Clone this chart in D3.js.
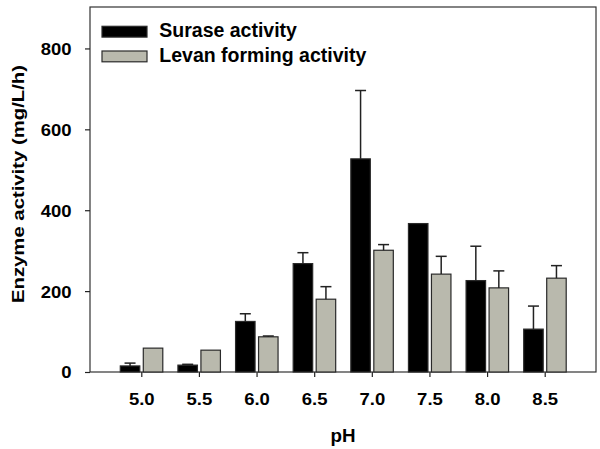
<!DOCTYPE html>
<html><head><meta charset="utf-8">
<script src="https://cdn.jsdelivr.net/npm/d3@7"></script>
<style>
html,body{margin:0;padding:0;background:#fff;}
text{font-family:"Liberation Sans",Arial,sans-serif;font-weight:bold;fill:#000;}
</style></head>
<body>
<svg id="chart" width="600" height="449"></svg>
<script>
const categories = ["5.0","5.5","6.0","6.5","7.0","7.5","8.0","8.5"];
const surase = [15, 17, 125, 268, 527, 367, 226, 106];
const suraseErr = [7, 2, 19, 27, 169, 0, 85, 57];
const levan = [59, 54, 87, 180, 301, 242, 208, 232];
const levanErr = [0, 0, 2, 31, 14, 44, 42, 31];
const yTicks = [0, 200, 400, 600, 800];
const seriesNames = ["Surase activity", "Levan forming activity"];
const colors = ["#000000", "#b9b9ad"];

const svg = d3.select("#chart");
const mLeft = 90, mRight = 596, mTop = 8, mBottom = 372;

const x = d3.scalePoint().domain(categories).range([mLeft, mRight]).padding(0.89);
const y = d3.scaleLinear().domain([0, 900]).range([mBottom, mTop]);

// frame
svg.append("rect").attr("x", mLeft).attr("y", mTop - 1).attr("width", mRight - mLeft).attr("height", mBottom - mTop + 1)
  .attr("fill", "none").attr("stroke", "#333").attr("stroke-width", 1.2);

const barW = 19.5;
const series = [
  {vals: surase, err: suraseErr, color: colors[0], dx: -21},
  {vals: levan, err: levanErr, color: colors[1], dx: 2}
];

series.forEach(s => {
  const g = svg.append("g");
  g.selectAll("rect").data(categories).join("rect")
    .attr("x", d => x(d) + s.dx)
    .attr("y", (d, i) => y(s.vals[i]))
    .attr("width", barW)
    .attr("height", (d, i) => y(0) - y(s.vals[i]))
    .attr("fill", s.color)
    .attr("stroke", "#2a2a2a").attr("stroke-width", 1.2);
  const eg = svg.append("g").attr("stroke", "#222").attr("stroke-width", 1.5);
  categories.forEach((c, i) => {
    if (s.err[i] <= 0) return;
    const cx = x(c) + s.dx + barW / 2;
    eg.append("line").attr("x1", cx).attr("x2", cx).attr("y1", y(s.vals[i])).attr("y2", y(s.vals[i] + s.err[i]));
    eg.append("line").attr("x1", cx - 5.5).attr("x2", cx + 5.5).attr("y1", y(s.vals[i] + s.err[i])).attr("y2", y(s.vals[i] + s.err[i]));
  });
});

// axes
const xAxis = svg.append("g").attr("transform", `translate(0,${mBottom})`)
  .call(d3.axisBottom(x).tickSize(5).tickPadding(0));
xAxis.select(".domain").remove();
xAxis.selectAll(".tick line").attr("stroke", "#222").attr("stroke-width", 1.2);
xAxis.selectAll(".tick text").attr("y", 33).attr("dy", 0).style("font-size", "16.5px");

const yAxis = svg.append("g").attr("transform", `translate(${mLeft},0)`)
  .call(d3.axisLeft(y).tickValues(yTicks).tickSize(5).tickFormat(d3.format("d")));
yAxis.select(".domain").remove();
yAxis.selectAll(".tick line").attr("stroke", "#222").attr("stroke-width", 1.2);
yAxis.selectAll(".tick text").attr("x", -18.5).attr("dy", "0.36em").style("font-size", "16.5px");

// stretch tick labels horizontally like the reference
svg.selectAll(".tick text").each(function() {
  const w = this.getComputedTextLength();
  d3.select(this).attr("textLength", w * 1.12).attr("lengthAdjust", "spacingAndGlyphs");
});

// axis titles
svg.append("text").attr("x", (mLeft + mRight) / 2).attr("y", 442).attr("text-anchor", "middle")
  .style("font-size", "18px").attr("textLength", 25).attr("lengthAdjust", "spacingAndGlyphs").text("pH");
svg.append("text").attr("transform", `translate(24,${(65 + 303) / 2}) rotate(-90)`).attr("text-anchor", "middle")
  .style("font-size", "16.5px").attr("textLength", 238).attr("lengthAdjust", "spacingAndGlyphs")
  .text("Enzyme activity (mg/L/h)");

// legend
const legend = svg.append("g");
const legY = [26.3, 51];
seriesNames.forEach((n, i) => {
  legend.append("rect").attr("x", 102).attr("y", legY[i]).attr("width", 45).attr("height", 10.8)
    .attr("fill", colors[i]).attr("stroke", "#2a2a2a").attr("stroke-width", 1.2);
  legend.append("text").attr("x", 159.3).attr("y", legY[i] + 11).style("font-size", "19.5px").text(n);
});
</script>
</body></html>
